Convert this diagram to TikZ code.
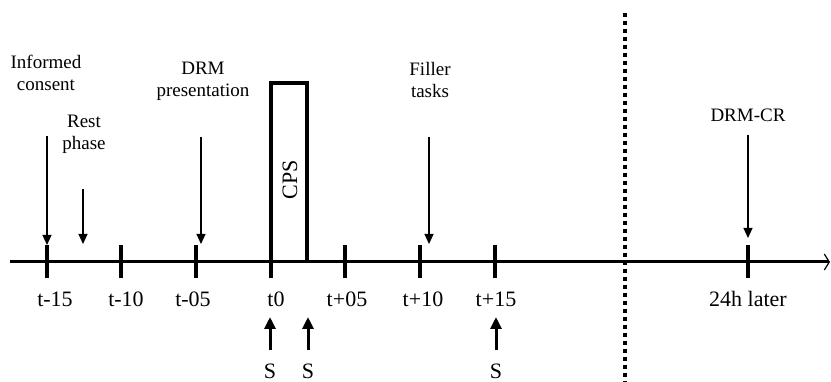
\documentclass[tikz,border=0pt]{standalone}
\usepackage{fontspec}
\setmainfont{Liberation Serif}
\usetikzlibrary{arrows.meta,calc}
\tikzset{
	Axis/.style={line width=3pt,-{Straight Barb[length=5pt,width=16pt,line width=1.2pt]}},
	Tick/.style={line width=4.5pt},
	Down/.style={line width=1.1pt,-{Triangle[length=10pt,width=9pt]}},
	Up/.style={line width=3pt,-{Triangle[length=12pt,width=11pt]}},
	Event/.style={align=center,inner sep=0pt,anchor=base,font=\fontsize{19}{22}\selectfont},
	TimeLabel/.style={inner sep=0pt,anchor=base,font=\fontsize{22}{24}\selectfont},
	Sep/.style={line width=4pt,dash pattern=on 4pt off 4pt}
}
\newcommand{\MakeTick}[4]{%
	\coordinate (#1) at (#2,262);%
	\coordinate (#1@top) at (#2,245);%
	\coordinate (#1@bottom) at (#2,278);%
	\draw[Tick] (#1@top) -- (#1@bottom);%
	\node[TimeLabel] (#1@label) at (#3,307) {#4};%
}
\begin{document}
\begin{tikzpicture}[x=1pt,y=-1pt]
	\useasboundingbox (0,0) rectangle (831,382);
	
	% time axis
	\coordinate (axis@start) at (10,262);
	\coordinate (axis@end) at (830,262);
	\draw[Axis] (axis@start) -- (axis@end);
	
	\MakeTick{tm15}{47}{55}{t-15}
	\MakeTick{tm10}{121}{126}{t-10}
	\MakeTick{tm05}{196}{193}{t-05}
	\MakeTick{t0}{271}{276}{t0}
	\MakeTick{tp05}{345}{347}{t+05}
	\MakeTick{tp10}{420}{423}{t+10}
	\MakeTick{tp15}{495}{496}{t+15}
	\MakeTick{later}{748}{748}{24h later}
	
	% CPS block
	\draw[line width=3.5pt] (271,262) |- (307,83) -- (307,262);
	\node[rotate=90,inner sep=0pt,font=\fontsize{22}{24}\selectfont] (cps) at (290,180) {CPS};
	
	% separator
	\coordinate (sep@top) at (625,13);
	\coordinate (sep@bottom) at (625,382);
	\draw[Sep] (sep@top) -- (sep@bottom);
	
	\begin{scope}% events above the axis
		\node[Event] (consent) at (46,91) {Informed\\consent};
		\coordinate (consent@arrow) at (47,136);
		\draw[Down] (consent@arrow) -- (tm15@top);
		
		\node[Event] (rest) at (84,150) {Rest\\phase};
		\coordinate (rest@arrow) at (83,189);
		\coordinate (rest@end) at (83,244);
		\draw[Down] (rest@arrow) -- (rest@end);
		
		\node[Event] (drm) at (203,97) {DRM\\presentation};
		\coordinate (drm@arrow) at (201,137);
		\coordinate (drm@end) at (201,244);
		\draw[Down] (drm@arrow) -- (drm@end);
		
		\node[Event] (filler) at (430,98) {Filler\\tasks};
		\coordinate (filler@arrow) at (429,137);
		\coordinate (filler@end) at (429,244);
		\draw[Down] (filler@arrow) -- (filler@end);
		
		\node[Event] (drmcr) at (748,122) {DRM-CR};
		\coordinate (drmcr@arrow) at (748,135);
		\coordinate (drmcr@end) at (748,238);
		\draw[Down] (drmcr@arrow) -- (drmcr@end);
	\end{scope}
	
	\begin{scope}% samples below the axis
		\foreach \x [count=\i] in {270,308,496}{
			\node[TimeLabel] (s\i) at (\x,378) {S};
			\coordinate (s\i@foot) at (\x,350);
			\coordinate (s\i@tip) at (\x,317);
			\draw[Up] (s\i@foot) -- (s\i@tip);
		}
	\end{scope}
\end{tikzpicture}
\end{document}
